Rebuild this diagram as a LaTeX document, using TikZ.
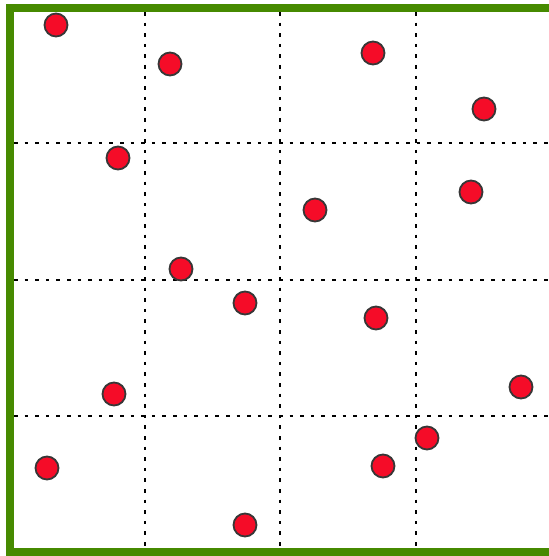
\documentclass[tikz,border=0pt]{standalone}
\definecolor{framegreen}{RGB}{70,138,0}
\definecolor{dotred}{RGB}{245,12,40}
\definecolor{dotedge}{RGB}{55,55,55}
\tikzset{
  pt/.style={circle,fill=dotred,draw=dotedge,line width=0.9pt,minimum size=11.5pt,inner sep=0pt},
  gridline/.style={line width=1pt,dash pattern=on 1.8pt off 3.5pt,black},
  frameline/.style={draw=framegreen,line width=4pt}
}
\begin{document}
\begin{tikzpicture}[x=0.5pt,y=-0.5pt]
\useasboundingbox (0,0) rectangle (548,556);
\fill[white] (0,0) rectangle (548,556);
% grid
\foreach \v in {145,280,416} {
  \draw[gridline] (\v,12) -- (\v,552);
}
\foreach \h in {143,280,416} {
  \draw[gridline] (14,\h) -- (554,\h);
}
% frame
\draw[frameline] (10,8) rectangle (554,552);
% points
\node[pt] (p1) at (56,25) {};
\node[pt] (p2) at (170,64) {};
\node[pt] (p3) at (373,53) {};
\node[pt] (p4) at (484,109) {};
\node[pt] (p5) at (118,158) {};
\node[pt] (p6) at (471,192) {};
\node[pt] (p7) at (315,210) {};
\node[pt] (p8) at (181,269) {};
\node[pt] (p9) at (245,303) {};
\node[pt] (p10) at (376,318) {};
\node[pt] (p11) at (114,394) {};
\node[pt] (p12) at (521,387) {};
\node[pt] (p13) at (427,438) {};
\node[pt] (p14) at (47,468) {};
\node[pt] (p15) at (383,466) {};
\node[pt] (p16) at (245,525) {};
\end{tikzpicture}
\end{document}
